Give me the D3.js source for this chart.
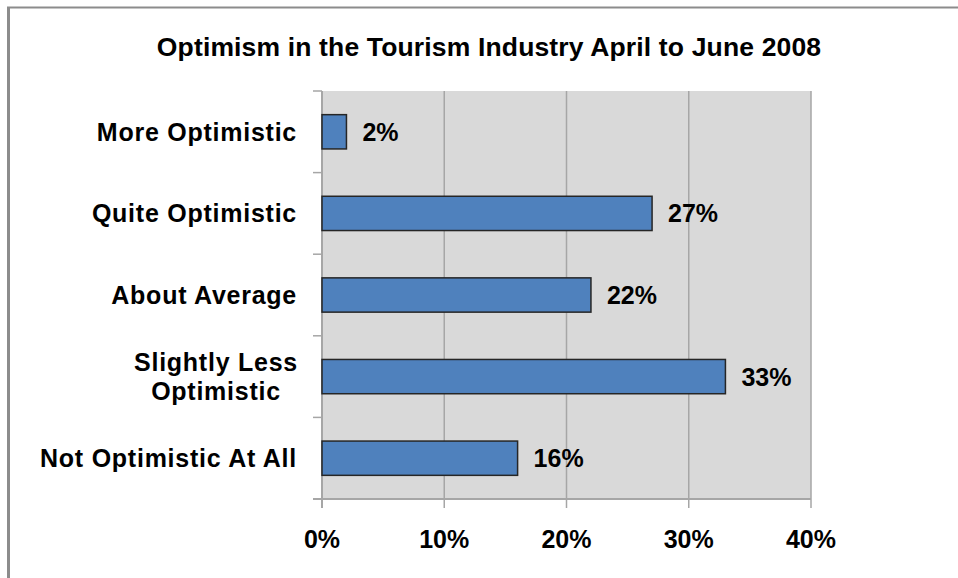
<!DOCTYPE html>
<html>
<head>
<meta charset="utf-8">
<script src="https://cdn.jsdelivr.net/npm/d3@7"></script>
<style>
  body { margin: 0; background: #fff; }
  text { font-family: Arial, "Liberation Sans", sans-serif; font-weight: bold; fill: #000; }
</style>
</head>
<body>
<svg width="958" height="578"></svg>
<script>
const categories = ["More Optimistic", "Quite Optimistic", "About Average", "Slightly Less Optimistic", "Not Optimistic At All"];
const labelLines = [["More Optimistic"], ["Quite Optimistic"], ["About Average"], ["Slightly Less", "Optimistic"], ["Not Optimistic At All"]];
const values = [2, 27, 22, 33, 16];
const xTicks = [0, 10, 20, 30, 40];
const title = "Optimism in the Tourism Industry April to June 2008";

const svg = d3.select("svg");
const margin = { left: 322, top: 91, right: 147, bottom: 79 };
const width = 958 - margin.left - margin.right;
const height = 578 - margin.top - margin.bottom;

// outer frame: only left and top edges show
svg.append("line").attr("x1", 8.5).attr("x2", 8.5).attr("y1", 7).attr("y2", 578)
  .attr("stroke", "#8c8c8c").attr("stroke-width", 3);
svg.append("line").attr("x1", 7).attr("x2", 958).attr("y1", 7.5).attr("y2", 7.5)
  .attr("stroke", "#8c8c8c").attr("stroke-width", 2);

svg.append("text")
  .attr("x", 489).attr("y", 56)
  .attr("text-anchor", "middle")
  .attr("font-size", "26.5px")
  .attr("letter-spacing", "0.15px")
  .text(title);

const g = svg.append("g").attr("transform", `translate(${margin.left},${margin.top})`);

const x = d3.scaleLinear().domain([0, 40]).range([0, width]);
const y = d3.scaleBand().domain(categories).range([0, height]).paddingInner(0.58).paddingOuter(0.29);

g.append("rect").attr("width", width).attr("height", height).attr("fill", "#d9d9d9");

// gridlines
g.selectAll(".grid")
  .data(xTicks.slice(1))
  .enter().append("line")
  .attr("x1", d => x(d)).attr("x2", d => x(d))
  .attr("y1", 0).attr("y2", height + 9)
  .attr("stroke", "#a6a6a6").attr("stroke-width", 1.5);

// left axis with category ticks
const bandEdges = d3.range(categories.length + 1).map(i => i * height / categories.length);
g.append("line").attr("x1", 0).attr("x2", 0).attr("y1", 0).attr("y2", height + 9)
  .attr("stroke", "#a6a6a6").attr("stroke-width", 2);
g.selectAll(".ytick")
  .data(bandEdges)
  .enter().append("line")
  .attr("x1", -9).attr("x2", 0)
  .attr("y1", d => d).attr("y2", d => d)
  .attr("stroke", "#a6a6a6").attr("stroke-width", 1.5);

// bottom axis
g.append("line").attr("x1", -9).attr("x2", width).attr("y1", height).attr("y2", height)
  .attr("stroke", "#a6a6a6").attr("stroke-width", 2);

// bars
g.selectAll(".bar")
  .data(values)
  .enter().append("rect")
  .attr("x", 0)
  .attr("y", (d, i) => y(categories[i]))
  .attr("width", d => x(d))
  .attr("height", y.bandwidth())
  .attr("fill", "#4f81bd")
  .attr("stroke", "#262626")
  .attr("stroke-width", 1.5);

// value labels
g.selectAll(".val")
  .data(values)
  .enter().append("text")
  .attr("x", d => x(d) + 16)
  .attr("y", (d, i) => y(categories[i]) + y.bandwidth() / 2 + 9)
  .attr("font-size", "25px")
  .text(d => d + "%");

// category labels
labelLines.forEach((lines, i) => {
  const cy = y(categories[i]) + y.bandwidth() / 2;
  const t = g.append("text")
    .attr("font-size", "25px")
    .attr("letter-spacing", "0.75px")
    .attr("text-anchor", lines.length > 1 ? "middle" : "end");
  lines.forEach((line, j) => {
    t.append("tspan")
      .attr("x", lines.length > 1 ? -106 : -25)
      .attr("y", cy + 9 + (j - (lines.length - 1) / 2) * 29)
      .text(line);
  });
});

// x tick labels
g.selectAll(".xlab")
  .data(xTicks)
  .enter().append("text")
  .attr("x", d => x(d))
  .attr("y", height + 49)
  .attr("text-anchor", "middle")
  .attr("font-size", "25px")
  .text(d => d + "%");
</script>
</body>
</html>
